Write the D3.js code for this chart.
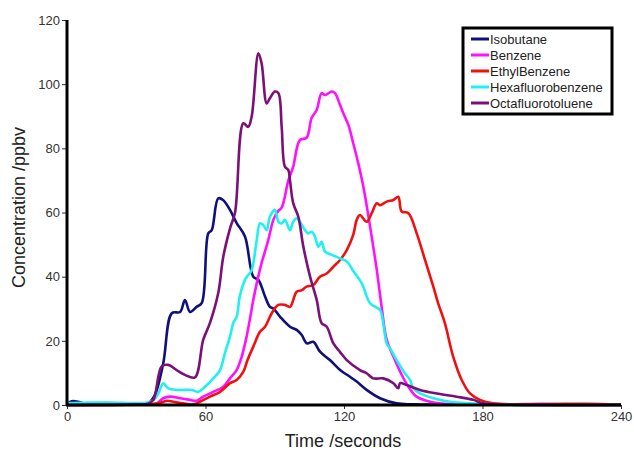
<!DOCTYPE html>
<meta charset="utf-8">
<script src="https://d3js.org/d3.v7.min.js"></script>
<style>
body { margin: 0; background: #fff; }
text { font-family: "Liberation Sans", Arial, sans-serif; }
</style>
<div id="chart"></div>
<script>

// [time (s), concentration (ppbv)]
const isobutane = [[0,0.3],[2,1.2],[5,1],[8,0.3],[20,0.2],[30,0.3],[35,0.5],[38,3],[41.7,13],[45.4,28.6],[49,29],[51.1,32.7],[53.3,29],[56.2,30.6],[58.4,31.8],[61.2,53.5],[62.7,54.5],[65.5,64.4],[67.6,63.9],[70.6,60.8],[73.5,56.7],[77.1,52.5],[80.7,40],[82.9,39],[85.8,33.8],[87.9,30.6],[89.4,30.1],[92.3,27.5],[96.6,24.4],[99.5,23.4],[101.7,21.8],[103.9,19.2],[106.7,19.7],[109.6,16.6],[113.9,14],[118.3,10.9],[122.6,8.8],[125.5,7.3],[129.8,4.7],[135.6,2.1],[142.8,0.5],[150,0.2],[200,0.1],[240,0]];

const benzene = [[0,0],[30,0.1],[37,0.2],[38.9,0.5],[41.7,2.1],[44.6,2.6],[49,2.1],[53.3,1.6],[56.2,1.3],[59,2.6],[63.4,4.1],[67.7,5.7],[70.6,8.3],[73.5,10.9],[75.7,15.1],[77.8,21.3],[79.3,27],[80.7,32.7],[82.2,37.9],[84.3,44.2],[87.2,51.4],[89.4,57.7],[91.5,60.5],[93,61.5],[95.9,70],[98,74.3],[100.9,82.6],[103.8,83.3],[106,89.5],[108.2,92],[110.3,97.2],[111.8,96.6],[114.7,97.7],[116.1,97.2],[118.3,93.5],[119.7,90.9],[121.9,87.3],[124,81.6],[126.2,75.3],[128.4,68],[131.3,55.6],[134.2,42.1],[136.3,30.6],[138.5,20.3],[141.4,15.1],[145,9.4],[147.9,5.7],[151.5,2.6],[157.3,1],[164.5,0.3],[190,0.1],[205,0.4],[215,0.2],[240,0.1]];

const ethylBenzene = [[0,0],[12,0.2],[16,0.6],[25,0.5],[32,0.3],[39.6,0.5],[43.2,1.3],[46,1],[50.4,0.5],[54.7,0.2],[57.6,1],[61.9,2.6],[66.3,4.1],[70.6,6.8],[73.5,7.8],[76.4,10.4],[78.2,14],[80.7,18.2],[83.6,22.8],[85.8,24.4],[88.7,28.6],[91.5,31.2],[94.4,31.2],[96.6,30.6],[99.5,35.3],[101.7,35.8],[103.8,36.9],[106.7,37.4],[109.6,40],[112.5,41],[115.4,43.1],[118.3,45.2],[121.2,48.3],[124,53],[125.5,57.7],[126.9,59.2],[129.8,57.1],[132,59.8],[134.2,62.9],[135.6,62.3],[138.5,63.4],[141.4,63.9],[143.5,64.9],[145,60.3],[147.9,59.8],[151.5,53.5],[155.1,45.2],[158.7,36.9],[160.8,31.7],[163.7,25.5],[167.3,15.1],[171,7.8],[174.6,3.6],[178.9,1.6],[184.7,0.5],[195,0.2],[210,0.3],[225,0.4],[240,0.2]];

const hexafluorobenzene = [[0,0.6],[10,0.8],[20,0.7],[30,0.6],[35,0.8],[37.4,1.5],[39.6,3.6],[41.7,6.8],[43.9,5.2],[47.5,4.7],[51.1,4.7],[54,4.7],[56.9,4.1],[59.8,5.7],[63.4,8.3],[66.3,10.9],[68.4,16.1],[70.6,21.3],[72,25.5],[73.5,27.5],[74.9,34],[77.1,39],[78.5,40.5],[80,42],[82.2,51.4],[83.6,56.6],[85,56.1],[86.5,54.5],[87.9,58.7],[90.1,60.8],[91.6,57.1],[93,56.6],[94.4,57.7],[96.6,54.5],[98,57.1],[99.5,58.2],[100.9,57.1],[103.1,54.5],[104.5,53.5],[106,54],[107.4,52.5],[108.9,49.3],[110.3,50.9],[111.8,47.8],[114.7,46.8],[118.3,45.7],[121.2,44.7],[124,41.8],[127.7,37.9],[131.3,31.7],[135.6,29.6],[137,25.5],[138.5,19.2],[139.9,17.7],[142.8,14],[146.4,9.9],[148.6,7.8],[150,5.2],[152.9,3.6],[158.7,2.1],[165.9,1],[174.6,0.5],[190,0.1],[240,0]];

const octafluorotoluene = [[0,0],[30,0.2],[35,0.4],[37.4,1.6],[41,12],[43.9,12.5],[47.5,10.9],[51.1,9.4],[55.4,8.6],[59,20.3],[61.9,25.5],[65.5,34.8],[67.7,46.2],[70.6,55],[72.8,60],[76.4,87.8],[78.5,86.7],[80,89.9],[82.9,109.6],[84.3,106.5],[86.5,94],[87.9,95.6],[90.1,97.7],[91.6,97.2],[93,86.7],[94.4,74.3],[95.9,73.2],[96.6,70],[98,62.9],[100.2,58.7],[102.4,49.3],[105.3,40],[108.2,32.7],[110.3,25.5],[112.5,24.4],[115.4,19.2],[118.3,16.5],[121.2,14],[126.9,10.9],[129.8,9.9],[132.7,8.3],[137,8.3],[141.4,6.8],[143.5,5.2],[144.3,6.8],[147.2,6.2],[152.9,4.7],[160.2,3.6],[168.8,2.6],[176,1.6],[180.3,0.5],[190,0.1],[240,0]];

const seriesNames = ["Isobutane", "Benzene", "EthylBenzene", "Hexafluorobenzene", "Octafluorotoluene"];
const seriesColors = ["#10107a", "#ff10ff", "#f01010", "#20f0f0", "#7a1078"];
const seriesData = [isobutane, benzene, ethylBenzene, hexafluorobenzene, octafluorotoluene];

const xTicks = [0, 60, 120, 180, 240];
const yTicks = [0, 20, 40, 60, 80, 100, 120];

const margin = {top: 20, right: 13, bottom: 50, left: 67},
    width = 634 - margin.left - margin.right,
    height = 455 - margin.top - margin.bottom;

const svg = d3.select("#chart")
  .append("svg")
    .attr("width", 634)
    .attr("height", 455)
  .append("g")
    .attr("transform", `translate(${margin.left},${margin.top})`);

const x = d3.scaleLinear().domain([0, 240]).range([0, width]);
const y = d3.scaleLinear().domain([0, 120]).range([height, 0]);

// axes
const xAxis = svg.append("g")
  .attr("transform", `translate(0, ${height})`)
  .call(d3.axisBottom(x).tickValues(xTicks).tickSize(4).tickPadding(3));
const yAxis = svg.append("g")
  .call(d3.axisLeft(y).tickValues(yTicks).tickSize(5).tickPadding(2));

[xAxis, yAxis].forEach(a => {
  a.selectAll("text").attr("font-size", 13).attr("fill", "#333")
    .style("font-family", "'Liberation Sans', Arial, sans-serif");
  a.selectAll(".tick line").attr("stroke", "#333");
  a.select(".domain").remove();
});

// lines
const line = d3.line()
  .x(d => x(d[0]))
  .y(d => y(d[1]))
  .curve(d3.curveCatmullRom.alpha(0.5));

svg.selectAll(".series")
  .data(seriesData)
  .join("path")
    .attr("class", "series")
    .attr("d", line)
    .attr("fill", "none")
    .attr("stroke", (d, i) => seriesColors[i])
    .attr("stroke-width", 2.6)
    .attr("stroke-linejoin", "round");

// thick axis lines on top
svg.append("line")
  .attr("x1", 0).attr("x2", 0).attr("y1", 0).attr("y2", height + 1)
  .attr("stroke", "#000").attr("stroke-width", 3);
svg.append("line")
  .attr("x1", -1).attr("x2", width).attr("y1", height).attr("y2", height)
  .attr("stroke", "#000").attr("stroke-width", 3);

// axis titles
svg.append("text")
  .attr("x", width / 2 - 1)
  .attr("y", height + 42)
  .attr("text-anchor", "middle")
  .attr("font-size", 18)
  .attr("fill", "#222")
  .text("Time /seconds");

svg.append("text")
  .attr("transform", `translate(${-42},${height / 2 - 5}) rotate(-90)`)
  .attr("text-anchor", "middle")
  .attr("font-size", 18)
  .attr("fill", "#222")
  .text("Concentration /ppbv");

// legend
const legend = svg.append("g")
  .attr("transform", `translate(${463 - margin.left},${28 - margin.top})`);

legend.append("rect")
  .attr("width", 149)
  .attr("height", 86)
  .attr("fill", "#fff")
  .attr("stroke", "#000")
  .attr("stroke-width", 3);

const items = legend.selectAll(".item")
  .data(seriesNames)
  .join("g")
    .attr("class", "item")
    .attr("transform", (d, i) => `translate(0, ${11 + i * 16})`);

items.append("line")
  .attr("x1", 8).attr("x2", 26)
  .attr("stroke", (d, i) => seriesColors[i])
  .attr("stroke-width", 3);

items.append("text")
  .attr("x", 27)
  .attr("dy", "0.35em")
  .attr("font-size", 13)
  .attr("fill", "#222")
  .text(d => d);

</script>
